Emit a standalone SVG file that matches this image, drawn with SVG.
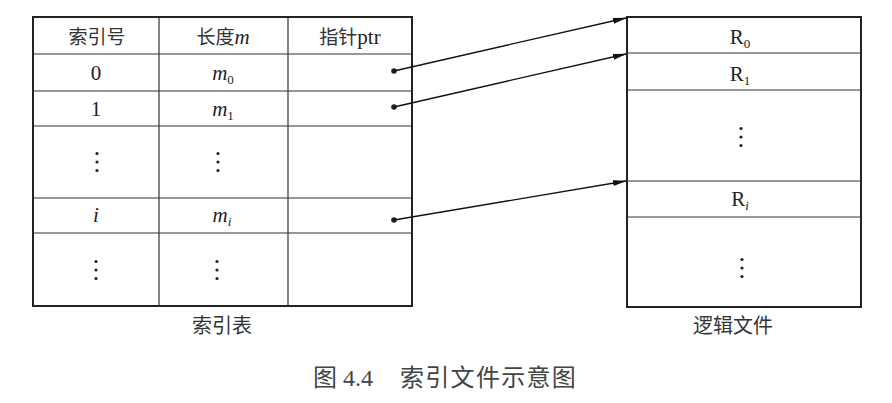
<svg xmlns="http://www.w3.org/2000/svg" width="892" height="403" viewBox="0 0 892 403">
<style>
.outer{fill:#fff;stroke:#222;stroke-width:2}
.in{stroke:#333;stroke-width:1.2;fill:none}
.t{font-family:"Liberation Serif","Noto Sans CJK SC",serif;font-size:21px;fill:#222;text-anchor:middle}
.cj{font-family:"Noto Sans CJK SC",sans-serif;font-size:19px;fill:#333}
.cap{font-family:"Liberation Serif","Noto Sans CJK SC",serif;font-size:20px;fill:#333;text-anchor:middle}
.it{font-style:italic}
.sub{font-size:13px}
.dot{fill:#222}
.con{stroke:#111;stroke-width:1.3;fill:none;marker-end:url(#ah)}
</style>
<defs>
<marker id="ah" markerWidth="14" markerHeight="8" refX="13" refY="4" orient="auto" markerUnits="userSpaceOnUse">
<path d="M0,1 L14,4 L0,7 Z" fill="#111"/>
</marker>
<g id="vdots"><circle cx="0" cy="-8.5" r="1.6"/><circle cx="0" cy="0" r="1.6"/><circle cx="0" cy="8.5" r="1.6"/></g>
</defs>
<rect width="892" height="403" fill="#fff"/>
<g id="index-table">
<rect class="outer" x="33" y="17" width="379" height="289"/>
<path class="in" d="M159,17V306M288,17V306M33,54H412M33,91H412M33,126H412M33,198H412M33,233H412"/>
<text class="t" x="97" y="44"><tspan class="cj">索引号</tspan></text>
<text class="t" x="223" y="44"><tspan class="cj">长度</tspan><tspan class="it">m</tspan></text>
<text class="t" x="350" y="44"><tspan class="cj">指针</tspan>ptr</text>
<text class="t" x="96" y="80">0</text>
<text class="t" x="223" y="80"><tspan class="it">m</tspan><tspan class="sub" dy="4">0</tspan></text>
<text class="t" x="96" y="116">1</text>
<text class="t" x="223" y="116"><tspan class="it">m</tspan><tspan class="sub" dy="4">1</tspan></text>
<use href="#vdots" x="97" y="162" class="dot"/>
<use href="#vdots" x="218" y="162" class="dot"/>
<text class="t it" x="96" y="222">i</text>
<text class="t" x="222" y="222"><tspan class="it">m</tspan><tspan class="sub it" dy="4">i</tspan></text>
<use href="#vdots" x="96" y="270" class="dot"/>
<use href="#vdots" x="217" y="270" class="dot"/>
<circle class="dot" cx="394" cy="71" r="2.8"/>
<circle class="dot" cx="394" cy="107" r="2.8"/>
<circle class="dot" cx="394" cy="220" r="2.8"/>
<text class="cap" x="222" y="333">索引表</text>
</g>
<g id="logic-file">
<rect class="outer" x="627" y="17" width="234" height="290"/>
<path class="in" d="M627,53H861M627,90H861M627,181H861M627,217H861"/>
<text class="t" x="740" y="44">R<tspan class="sub" dy="4">0</tspan></text>
<text class="t" x="740" y="81">R<tspan class="sub" dy="4">1</tspan></text>
<use href="#vdots" x="741" y="137" class="dot"/>
<text class="t" x="740" y="206">R<tspan class="sub it" dy="4">i</tspan></text>
<use href="#vdots" x="742" y="268" class="dot"/>
<text class="cap" x="733" y="333">逻辑文件</text>
</g>
<g id="connectors">
<line class="con" x1="394" y1="71" x2="626" y2="18"/>
<line class="con" x1="394" y1="107" x2="626" y2="54"/>
<line class="con" x1="394" y1="220" x2="626" y2="181"/>
</g>
<text x="313" y="386" style="font-family:'Liberation Serif','Noto Sans CJK SC',serif;font-size:24px;fill:#444">图 4.4</text>
<text x="400" y="386" style="font-family:'Noto Sans CJK SC',sans-serif;font-size:24px;letter-spacing:1.3px;fill:#444">索引文件示意图</text>
</svg>
